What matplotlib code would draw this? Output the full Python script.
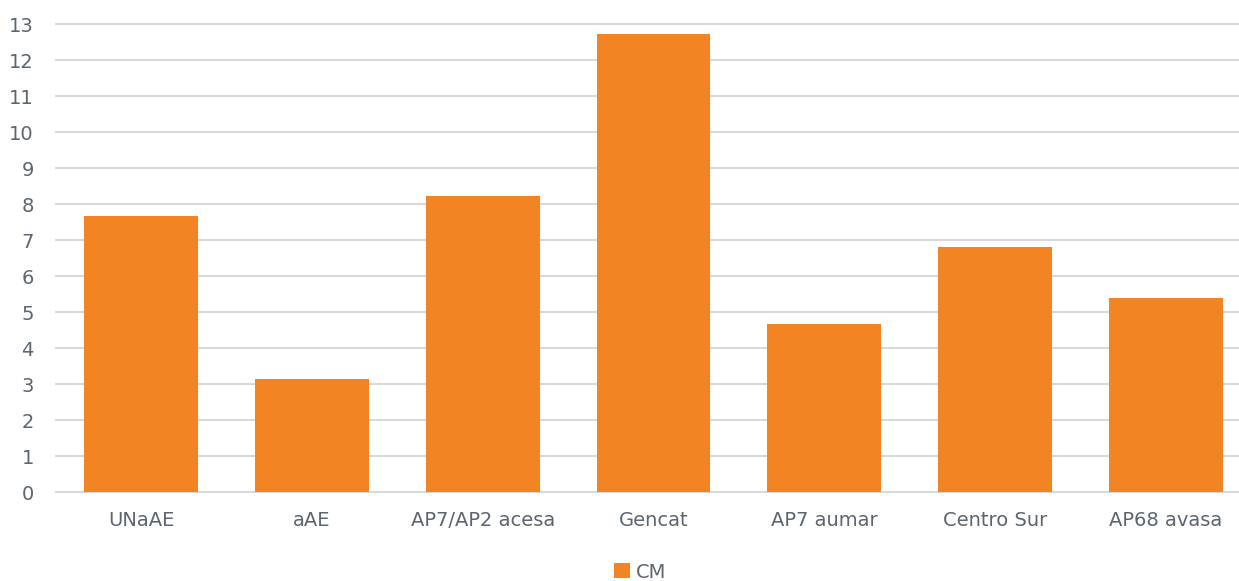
import matplotlib.pyplot as plt
import numpy as np

categories = ["UNaAE", "aAE", "AP7/AP2 acesa", "Gencat", "AP7 aumar", "Centro Sur", "AP68 avasa"]
values = [7.68, 3.14, 8.23, 12.74, 4.68, 6.82, 5.39]
series_name = "CM"

bar_color = "#F38423"
text_color = "#5B6670"
grid_color = "#D9D9D9"

plt.rcParams['font.family'] = ['DejaVu Sans']
fig = plt.figure(figsize=(12.39, 5.81), dpi=100)
ax = fig.add_axes([56 / 1239, 89 / 581, (1251 - 56) / 1239, (492 - 24.5) / 581])

x = np.arange(len(categories))
ax.bar(x, values, width=0.667, color=bar_color, label=series_name, zorder=3)

ax.set_xlim(-0.5, len(categories) - 0.5)
ax.set_ylim(0, 13)
ax.set_yticks(range(0, 14))
ax.set_xticks(x)
ax.set_xticklabels(categories)
ax.tick_params(axis='both', length=0, colors=text_color, labelsize=14)
ax.tick_params(axis='x', pad=14)
ax.tick_params(axis='y', pad=16)

ax.grid(axis='y', color=grid_color, linewidth=1.5, zorder=0)
for gl in ax.get_ygridlines():
    gl.set_clip_on(False)
for s in ax.spines.values():
    s.set_visible(False)

leg = fig.legend(loc='center', bbox_to_anchor=(640 / 1239, 1 - 572 / 581), frameon=False,
                 fontsize=14, handlelength=0.8, handleheight=0.8, handletextpad=0.3,
                 borderpad=0)
for t in leg.get_texts():
    t.set_color(text_color)

fig.savefig("out.png", dpi=100)
